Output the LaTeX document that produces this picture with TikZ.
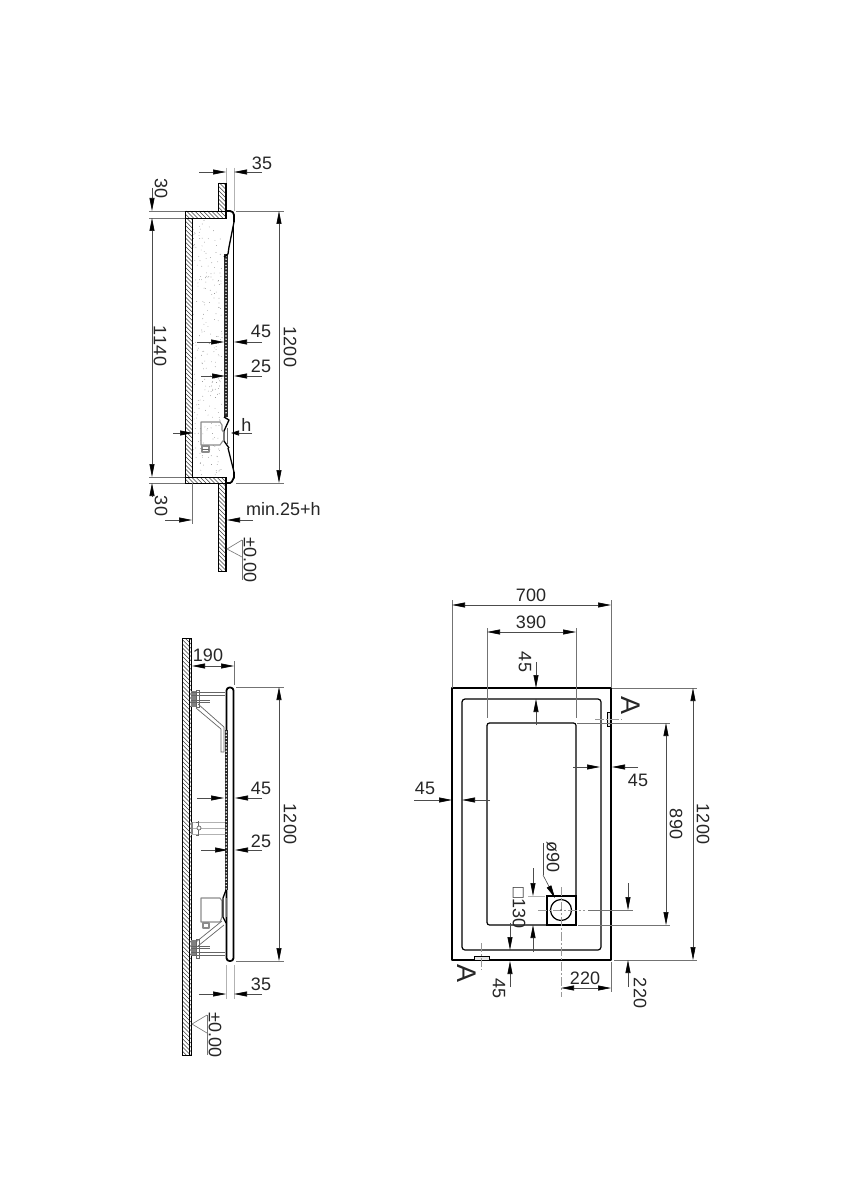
\documentclass[tikz,border=0pt]{standalone}
\usepackage{fontspec}
\setmainfont[Kerning=Off]{Liberation Sans}
\usetikzlibrary{arrows.meta}
\tikzset{
  dimtext/.style={font=\fontsize{18}{18}\selectfont,inner sep=0pt,text=black!85},
  dimtextv/.style={dimtext,rotate=-90},
  bigA/.style={font=\fontsize{27}{27}\selectfont,inner sep=0pt,rotate=-90,text=black!85},
  dimline/.style={draw=black!70,line width=0.6pt},
  arr/.style={dimline,-{Triangle[length=13pt,width=5pt,color=black]}},
  arrshort/.style={dimline,-{Triangle[length=8pt,width=5pt,color=black]}},
  arrboth/.style={dimline,{Triangle[length=13pt,width=5pt,color=black]}-{Triangle[length=13pt,width=5pt,color=black]}},
  ext/.style={draw=black!55,line width=0.6pt},
  extlight/.style={draw=black!30,line width=1pt},
  centre/.style={draw=black!40,line width=0.5pt,dash pattern=on 9pt off 2pt on 2pt off 2pt},
  outline/.style={draw=black,line width=0.9pt},
  heavy/.style={draw=black,line width=1.8pt,line join=round},
  midheavy/.style={draw=black,line width=1.3pt,line join=round},
  hatchline/.style={draw=black!75,line width=0.55pt},
  greybox/.style={draw=black!45,line width=1.1pt,line join=round},
  thinmech/.style={draw=black!60,line width=0.7pt},
}
\newcommand{\hatchrect}[4]{%
  \begin{scope}
    \clip (#1,#2) rectangle (#3,#4);
    \pgfmathsetmacro{\hh}{#4-#2}
    \pgfmathtruncatemacro{\nn}{(#3-#1+#4-#2)/4.2+1}
    \foreach \i in {0,...,\nn}{
      \pgfmathsetmacro{\xx}{#1-\hh+\i*4.2}
      \draw[hatchline] (\xx,#2) -- ++(\hh,\hh);
    }
  \end{scope}
  \draw[outline] (#1,#2) rectangle (#3,#4);
}
\newcommand{\dottedstrip}[4]{%
  \fill[black!85] (#1,#2) rectangle (#3,#4);
  \pgfmathsetmacro{\midx}{(#1+#3)/2}
  \pgfmathtruncatemacro{\nn}{(#4-#2)/3.2-1}
  \foreach \i in {0,...,\nn}{
    \pgfmathsetmacro{\yy}{#2+2+\i*3.2}
    \fill[white] (\midx,\yy) circle (0.8pt);
  }
}
\begin{document}
\begin{tikzpicture}[x=1pt,y=-1pt]
\useasboundingbox (0,0) rectangle (840,1190);
\fill[white] (0,0) rectangle (840,1190);

% ===== Section A-A (top) =====
\pgfmathsetseed{4711}
\foreach \i in {1,...,240}{
  \pgfmathsetmacro{\px}{193+rnd*(29)}
  \pgfmathsetmacro{\py}{220+rnd*(255)}
  \fill[black!60] (\px,\py) circle (0.35pt);
}
\hatchrect{218}{183}{226}{211}
\hatchrect{185}{211}{226}{218}
\hatchrect{185}{218}{192}{477}
\hatchrect{185}{477}{226}{483}
\hatchrect{218}{483}{226}{571}
\draw[heavy] (225.5,183) -- (225.5,218);
\draw[heavy] (225.5,477) -- (225.5,571);
% front panel
\draw[heavy] (226,211) -- (230,211) to[out=0,in=90] (234,215) -- (234,222);
\draw[midheavy] (234,222) -- (229,247) -- (228,254);
\draw[heavy] (233.5,226) -- (233.5,474);
\draw[midheavy] (228,448) -- (234,472);
\draw[heavy] (234,472) -- (234,478) to[out=90,in=0] (230,483) -- (226,483);
\dottedstrip{224}{254}{228}{417}
\draw[midheavy] (228,254) -- (224,257);
% trap
\draw[midheavy] (224,417) -- (229,420) -- (224,431) -- (224,441) -- (229,448);
\draw[thinmech] (227,428) -- (227,444);
\draw[greybox] (201,422) -- (220,422) -- (222,425) -- (222,430) -- (224,433) -- (224,440) -- (222,442) -- (220,445) -- (201,445) -- cycle;
\draw[greybox] (202,446) rectangle (209,452);
\draw[thinmech] (202,449) -- (209,449);

% dims, section A
\draw[extlight] (226,168) -- (226,183);
\draw[extlight] (234,168) -- (234,211);
\draw[arr] (199,172) -- (226,172);
\draw[arr] (262,172) -- (234,172);
\node[dimtext] (t35a) at (262,163) {35};

\draw[ext] (149,211) -- (185,211);
\draw[ext] (149,218) -- (185,218);
\draw[ext] (149,477) -- (185,477);
\draw[ext] (149,483) -- (185,483);
\draw[arr] (152,188) -- (152,211);
\draw[arrboth] (152,218) -- (152,477);
\draw[arr] (152,497) -- (152,483);
\node[dimtextv] (t30a) at (161,189) {30};
\node[dimtextv] (t1140) at (160,346) {1140};
\node[dimtextv] (t30b) at (161,506) {30};

\draw[ext] (236,211) -- (284,211);
\draw[ext] (236,483) -- (284,483);
\draw[arrboth] (279,211) -- (279,483);
\node[dimtextv] (t1200a) at (290,347) {1200};

\draw[arr] (197,342) -- (224,342);
\draw[arr] (262,342) -- (234,342);
\node[dimtext] (t45a) at (261,331) {45};
\draw[arr] (201,376) -- (225,376);
\draw[arr] (262,376) -- (234,376);
\node[dimtext] (t25a) at (261,366) {25};
\draw[arr] (173,433) -- (193,433);
\draw[arrshort] (252,433) -- (231,433);
\node[dimtext] (th) at (246.5,425) {h};

\draw[ext] (192,483) -- (192,524);
\draw[arr] (165,520) -- (192,520);
\draw[arr] (253,520) -- (227,520);
\node[dimtext,anchor=west] (tmin) at (246,509) {min.25+h};

\draw[ext] (242,540) -- (227,549) -- (242,557);
\draw[ext] (242,540) -- (242,580);
\node[dimtextv] (t000a) at (250,560) {±0.00};

% ===== Side elevation (bottom left) =====
\hatchrect{182}{638}{191}{1055}
\draw[heavy] (189.5,638) -- (189.5,1055);
% panel
\draw[heavy,rounded corners=3pt] (226.5,961) -- (226.5,687.5) -- (233.5,687.5) -- (233.5,961) -- cycle;
\dottedstrip{224.5}{730}{228}{890}
% top bracket
\fill[black!50] (191,691) rectangle (196,707);
\draw[thinmech,fill=white] (196,690) rectangle (199,707);
\draw[thinmech] (191,692) -- (225,692);
\draw[thinmech] (191,695) -- (225,695);
\draw[thinmech] (191,700) -- (210,700);
\draw[thinmech] (191,702.5) -- (210,702.5);
\draw[thinmech] (198,704) -- (224,727) -- (224,752);
\draw[thinmech] (196,708) -- (221,729) -- (221,752) -- (224,752);
% middle fixing
\draw[extlight] (191,822) -- (225,822);
\draw[extlight] (191,828) -- (225,828);
\draw[extlight] (191,834) -- (225,834);
\fill[black!50] (191,822) rectangle (193,834);
\draw[thinmech] (198,821) -- (198,836);
\draw[thinmech] (196,822) -- (198,822) (196,835) -- (198,835);
\draw[thinmech,fill=white] (199,828) circle (2pt);
% drain
\draw[greybox] (201,898) -- (220,898) -- (222,901) -- (222,917) -- (220,922) -- (201,922) -- cycle;
\draw[greybox] (203,923) rectangle (209,928);
\draw[midheavy] (226,890) -- (223,898) -- (223,917) -- (226,923);
\draw[thinmech] (226,898) -- (226,917);
% bottom bracket
\fill[black!50] (191,940) rectangle (196,956);
\draw[thinmech,fill=white] (196,939) rectangle (199,958);
\draw[thinmech] (191,952.5) -- (225,952.5);
\draw[thinmech] (191,955.5) -- (225,955.5);
\draw[thinmech] (191,946) -- (210,946);
\draw[thinmech] (191,948.5) -- (210,948.5);
\draw[thinmech] (196,942) -- (222,921);
\draw[thinmech] (198,946) -- (224,925);

% dims, side elevation
\draw[ext] (234,661) -- (234,685);
\draw[arrboth] (192,666) -- (234,666);
\node[dimtext] (t190) at (208,655) {190};
\draw[ext] (236,687) -- (284,687);
\draw[ext] (236,961) -- (284,961);
\draw[arrboth] (279,687) -- (279,961);
\node[dimtextv] (t1200b) at (290,824) {1200};
\draw[arr] (197,798) -- (224,798);
\draw[arr] (262,798) -- (235,798);
\node[dimtext] (t45b) at (261,788) {45};
\draw[arr] (201,850) -- (228,850);
\draw[arr] (262,850) -- (235,850);
\node[dimtext] (t25b) at (261,841) {25};
\draw[extlight] (226,965) -- (226,999);
\draw[extlight] (234,965) -- (234,999);
\draw[arr] (199,994) -- (226,994);
\draw[arr] (262,994) -- (234,994);
\node[dimtext] (t35b) at (261,984) {35};
\draw[ext] (207,1015) -- (192,1024) -- (207,1033);
\draw[ext] (207,1015) -- (207,1055);
\node[dimtextv] (t000b) at (215,1035) {±0.00};

% ===== Plan =====
\draw[heavy] (452,688) rectangle (611,960);
\draw[outline,line width=1.2pt,rounded corners=3pt] (462,699) rectangle (601,950);
\draw[outline,line width=1.2pt,rounded corners=2.5pt] (487,723) -- (576,723) -- (576,925) -- (487,925) -- cycle;
\draw[draw=black,line width=2.6pt,fill=white] (547,896) rectangle (576,925);
\draw[draw=black,line width=1.2pt] (561,910) circle (10.5pt);
% overflow
\draw[draw=black,line width=0.8pt,fill=black!10] (607,712) rectangle (610.5,726);
\draw[draw=black,line width=0.8pt,fill=black!10] (474.5,956) rectangle (489,960);
\draw[centre] (595,719) -- (622,719);
\draw[centre] (481,943) -- (481,970);
\node[bigA] (tAa) at (631,705) {A};
\node[bigA] (tAb) at (467,973) {A};
% centre lines
\draw[centre] (538,910) -- (585,910);
\draw[centre] (561,887) -- (561,997);
\fill[black] (561,910) circle (0.7pt);

% dims, plan
\draw[ext] (452,600) -- (452,688);
\draw[ext] (611,600) -- (611,688);
\draw[arrboth] (452,605) -- (611,605);
\node[dimtext] (t700) at (531,595) {700};
\draw[ext] (487,628) -- (487,718);
\draw[ext] (576,628) -- (576,718);
\draw[arrboth] (487,632) -- (576,632);
\node[dimtext] (t390) at (531,622) {390};
\draw[arr] (536,662) -- (536,688);
\draw[arr] (536,725) -- (536,699);
\node[dimtextv] (t45c) at (525,662) {45};
\draw[arr] (573,767) -- (600,767);
\draw[arr] (638,767) -- (612,767);
\node[dimtext] (t45d) at (638,780) {45};
\draw[arr] (414,800) -- (452,800);
\draw[arr] (490,800) -- (462,800);
\node[dimtext] (t45e) at (425,788) {45};
\draw[ext] (577,723) -- (670,723);
\draw[ext] (578,925) -- (670,925);
\draw[arrboth] (666,723) -- (666,925);
\node[dimtextv] (t890) at (676,824) {890};
\draw[ext] (612,688) -- (697,688);
\draw[ext] (614,960) -- (697,960);
\draw[arrboth] (693,688) -- (693,960);
\node[dimtextv] (t1200c) at (703,824) {1200};
\draw[ext] (588,910) -- (633,910);
\draw[arr] (628,883) -- (628,910);
\draw[arr] (628,987) -- (628,960);
\node[dimtextv] (t220a) at (640,993) {220};
\draw[ext] (611,962) -- (611,992);
\draw[arrboth] (561,988) -- (611,988);
\node[dimtext] (t220b) at (585,978) {220};
\draw[dimline] (543,843) -- (543,875);
\draw[arr] (543,875) -- (555,898);
\node[dimtextv] (tphi) at (553,857) {ø90};
\draw[extlight] (528,896) -- (545,896);
\draw[arr] (533,868) -- (533,896);
\draw[arr] (533,952) -- (533,925);
\node[dimtextv] (t130) at (519,908) {□130};
\draw[arr] (510,923) -- (510,950);
\draw[arr] (510,987) -- (510,961);
\node[dimtextv] (t45f) at (499,988) {45};
\end{tikzpicture}
\end{document}
